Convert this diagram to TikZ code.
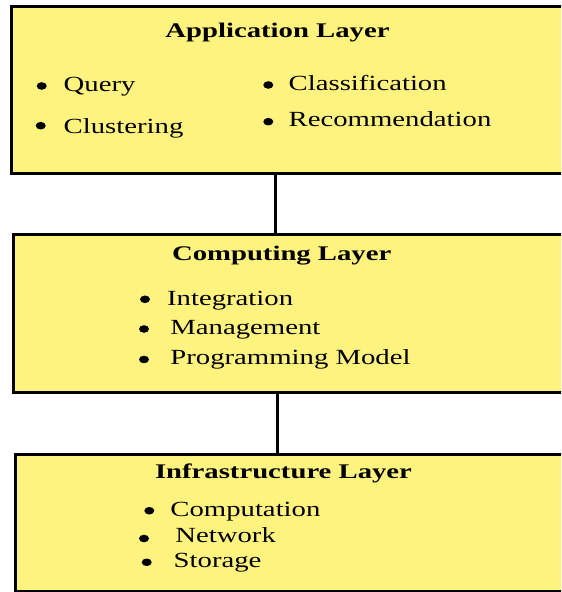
\documentclass[tikz,border=0pt]{standalone}
\usepackage{fontspec}
\setmainfont{Liberation Serif}[FakeStretch=1.38]
\newfontfamily\itemfont{Liberation Serif}[FakeStretch=1.33]
\definecolor{layerfill}{RGB}{255,243,128}
\tikzset{
  layer/.style={draw=black, line width=1.5pt, fill=layerfill, anchor=north west,
    minimum width=300pt, inner sep=0pt},
  title/.style={font=\fontsize{10.4}{12}\selectfont\bfseries, anchor=base, inner sep=0pt},
  item/.style={font=\itemfont\fontsize{10.8}{12}\selectfont, anchor=base west, inner sep=0pt},
  link/.style={line width=1.5pt}
}
\begin{document}
\begin{tikzpicture}[x=.5pt,y=-.5pt]
    \useasboundingbox (0,0) rectangle (561,592);
    \begin{scope}
    \clip (0,0) rectangle (561,592);
    % layers
    \node[layer, minimum height=83.5pt] (app) at (10,5) {};
    \node[layer, minimum height=79pt] (comp) at (12,233) {};
    \node[layer, minimum height=68.5pt] (infra) at (14,453) {};
    \end{scope}

    \node[title] (apptitle) at (277.5,37.5) {Application Layer};
    \node[title] (comptitle) at (281.7,261) {Computing Layer};
    \node[title] (infratitle) at (283.5,478) {Infrastructure Layer};

    % bullet x/y, text x, baseline
    \foreach \nm/\bx/\by/\tx/\ty/\txt in {
        query/41.7/86/63.3/91.7/Query,
        clust/40.7/125.7/63.3/133.3/Clustering,
        class/268.3/85/288.3/90.7/Classification,
        recom/268.3/121.7/288.3/126.7/Recommendation,
        integ/145/299.3/166.7/306/Integration,
        manag/144/329/170/334.3/Management,
        progr/144/359.5/170/364.3/Programming Model,
        compu/149.3/510.7/170/516/Computation,
        netw/144/538.5/175/542.7/Network,
        stor/146.7/562.3/173.3/567.3/Storage} {
      \fill (\bx,\by) ellipse (5 and 3.8);
      \node[item] (\nm) at (\tx,\ty) {\txt};
    }

    % links between layers
    \coordinate (axisA) at (275,0);
    \coordinate (axisB) at (277,0);
    \draw[link] (app.south -| axisA) -- (comp.north -| axisA);
    \draw[link] (comp.south -| axisB) -- (infra.north -| axisB);
  \end{tikzpicture}
\end{document}
